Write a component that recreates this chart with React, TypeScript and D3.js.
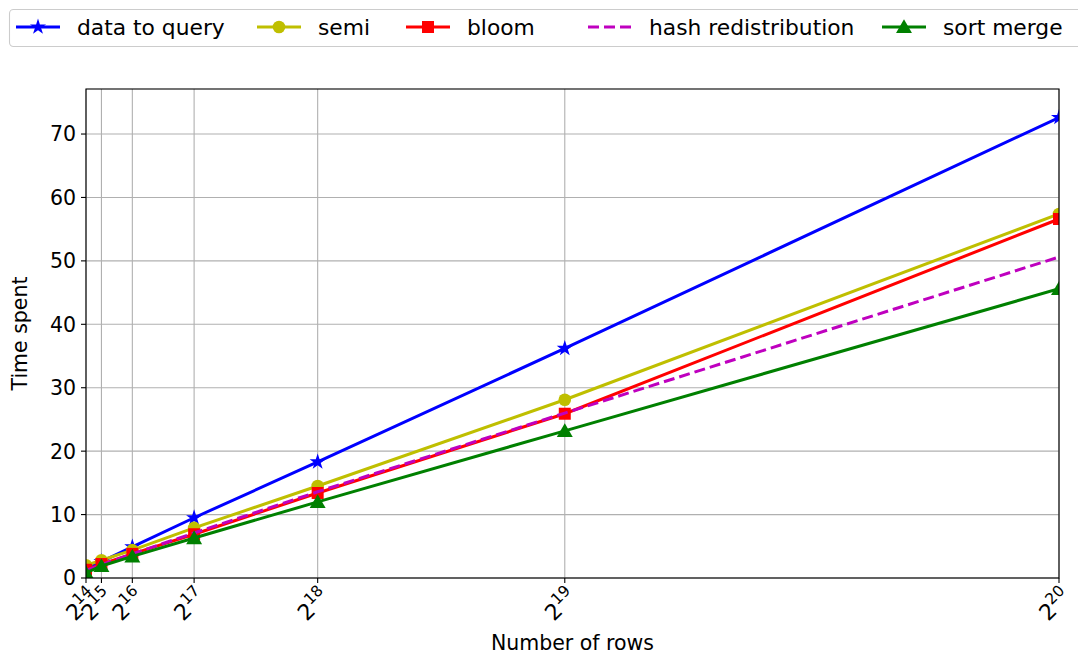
import React, { useRef, useEffect } from 'react';
import * as d3 from 'd3';

const exponents = [14, 15, 16, 17, 18, 19, 20];
const rows = exponents.map((e) => Math.pow(2, e));

const dataToQuery = [1.5, 2.6, 4.9, 9.5, 18.3, 36.2, 72.6];
const semi = [2.0, 2.8, 4.4, 7.9, 14.5, 28.1, 57.4];
const bloom = [1.3, 2.2, 3.8, 6.9, 13.4, 25.9, 56.6];
const hashRedistribution = [1.2, 2.1, 3.8, 7.1, 13.6, 26.0, 50.6];
const sortMerge = [0.8, 1.9, 3.4, 6.3, 12.0, 23.2, 45.6];

const yTicks = [0, 10, 20, 30, 40, 50, 60, 70];

const series = [
  { name: 'data to query', values: dataToQuery, color: '#0000ff', marker: 'star', dash: null },
  { name: 'semi', values: semi, color: '#bfbf00', marker: 'circle', dash: null },
  { name: 'bloom', values: bloom, color: '#ff0000', marker: 'square', dash: null },
  { name: 'hash redistribution', values: hashRedistribution, color: '#bf00bf', marker: null, dash: '11,5' },
  { name: 'sort merge', values: sortMerge, color: '#008000', marker: 'triangle', dash: null },
];

const App = () => {
  const ref = useRef<SVGSVGElement>(null);

  useEffect(() => {
    const width = 1078;
    const height = 655;
    const margin = { left: 86, right: 19, top: 89, bottom: 77 };
    const font = 'DejaVu Sans, sans-serif';
    const fs = 20.5;

    const svg = d3.select(ref.current);
    svg.selectAll('*').remove();

    const x = d3.scaleLinear()
      .domain([rows[0], rows[rows.length - 1]])
      .range([margin.left, width - margin.right]);
    const y = d3.scaleLinear()
      .domain([0, 77.1])
      .range([height - margin.bottom, margin.top]);

    const x0 = margin.left, x1 = width - margin.right;
    const y0 = height - margin.bottom, y1 = margin.top;

    svg.append('defs').append('clipPath').attr('id', 'plotclip')
      .append('rect')
      .attr('x', x0).attr('y', y1)
      .attr('width', x1 - x0).attr('height', y0 - y1);

    // grid
    const grid = svg.append('g').attr('stroke', '#b0b0b0').attr('stroke-width', 1.1);
    grid.selectAll('line.gx').data(rows).enter().append('line')
      .attr('x1', (d) => x(d)).attr('x2', (d) => x(d))
      .attr('y1', y0).attr('y2', y1);
    grid.selectAll('line.gy').data(yTicks).enter().append('line')
      .attr('x1', x0).attr('x2', x1)
      .attr('y1', (d) => y(d)).attr('y2', (d) => y(d));

    const plot = svg.append('g').attr('clip-path', 'url(#plotclip)');

    const line = d3.line<number>()
      .x((_, i) => x(rows[i]))
      .y((d) => y(d));

    const symbolFor = (m: string) => {
      if (m === 'star') return d3.symbol().type(d3.symbolStar).size(80);
      if (m === 'circle') return d3.symbol().type(d3.symbolCircle).size(125);
      if (m === 'square') return d3.symbol().type(d3.symbolSquare).size(144);
      return d3.symbol().type(d3.symbolTriangle).size(110);
    };

    series.forEach((s) => {
      plot.append('path')
        .attr('d', line(s.values))
        .attr('fill', 'none')
        .attr('stroke', s.color)
        .attr('stroke-width', 3)
        .attr('stroke-dasharray', s.dash);
      if (s.marker) {
        const sym = symbolFor(s.marker);
        plot.selectAll(null).data(s.values).enter().append('path')
          .attr('d', sym())
          .attr('transform', (d, i) => `translate(${x(rows[i])},${y(d) + (s.marker === 'triangle' ? 1.5 : 0)})`)
          .attr('fill', s.color);
      }
    });

    // spines
    svg.append('rect')
      .attr('x', x0).attr('y', y1)
      .attr('width', x1 - x0).attr('height', y0 - y1)
      .attr('fill', 'none').attr('stroke', '#000').attr('stroke-width', 1.1);

    // y ticks
    const yAx = svg.append('g');
    yTicks.forEach((t) => {
      yAx.append('line')
        .attr('x1', x0 - 5).attr('x2', x0)
        .attr('y1', y(t)).attr('y2', y(t))
        .attr('stroke', '#000').attr('stroke-width', 1.1);
      yAx.append('text')
        .attr('x', x0 - 10).attr('y', y(t))
        .attr('dy', '0.36em')
        .attr('text-anchor', 'end')
        .attr('font-family', font).attr('font-size', fs)
        .attr('fill', '#000')
        .text(t);
    });

    // x ticks
    const xAx = svg.append('g');
    exponents.forEach((e, i) => {
      const px = x(rows[i]);
      xAx.append('line')
        .attr('x1', px).attr('x2', px)
        .attr('y1', y0).attr('y2', y0 + 5)
        .attr('stroke', '#000').attr('stroke-width', 1.1);
      const t = xAx.append('text')
        .attr('transform', `translate(${px - 3},${y0 + 28}) rotate(-45)`)
        .attr('text-anchor', 'middle')
        .attr('dy', '0.36em')
        .attr('font-family', font)
        .attr('fill', '#000');
      t.append('tspan').attr('font-size', 22).text('2');
      t.append('tspan').attr('font-size', 15.5).attr('dy', '-0.6em').text(String(e));
    });

    // axis labels
    svg.append('text')
      .attr('x', (x0 + x1) / 2).attr('y', 650)
      .attr('text-anchor', 'middle')
      .attr('font-family', font).attr('font-size', fs)
      .text('Number of rows');
    svg.append('text')
      .attr('transform', `translate(27,${(y0 + y1) / 2}) rotate(-90)`)
      .attr('text-anchor', 'middle')
      .attr('font-family', font).attr('font-size', fs)
      .text('Time spent');

    // legend
    const lg = svg.append('g');
    lg.append('rect')
      .attr('x', 9.5).attr('y', 9.5)
      .attr('width', 1100).attr('height', 37)
      .attr('rx', 4)
      .attr('fill', '#fff').attr('fill-opacity', 0.8)
      .attr('stroke', '#cccccc').attr('stroke-width', 1.1);
    const legendX = [16, 257, 406, 588, 882];
    const ly = 27;
    series.forEach((s, i) => {
      const lx = legendX[i];
      lg.append('line')
        .attr('x1', lx).attr('x2', lx + 44)
        .attr('y1', ly).attr('y2', ly)
        .attr('stroke', s.color).attr('stroke-width', 3)
        .attr('stroke-dasharray', s.dash);
      if (s.marker) {
        lg.append('path')
          .attr('d', symbolFor(s.marker)())
          .attr('transform', `translate(${lx + 22},${ly + (s.marker === 'triangle' ? 1.5 : 0)})`)
          .attr('fill', s.color);
      }
      lg.append('text')
        .attr('x', lx + 61).attr('y', ly)
        .attr('dy', '0.36em')
        .attr('font-family', font).attr('font-size', 21.8)
        .attr('fill', '#000')
        .text(s.name);
    });
  }, []);

  return (
    <svg
      ref={ref}
      width={1078}
      height={655}
      style={{ position: 'absolute', left: 0, top: 0, background: '#fff' }}
    />
  );
};

export default App;
